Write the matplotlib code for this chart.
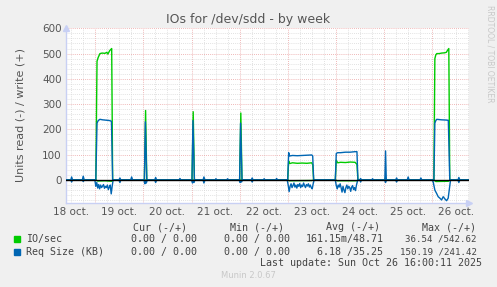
import matplotlib
matplotlib.use("Agg")
import matplotlib.pyplot as plt

# time in days since 18 oct 00:00, values in units
DAY_LABELS = ["18 oct.", "19 oct.", "20 oct.", "21 oct.", "22 oct.",
              "23 oct.", "24 oct.", "25 oct.", "26 oct."]
Y_TICKS = [0, 100, 200, 300, 400, 500, 600]

# IO/sec write (+)
io_w_t = [0.39, 1.01, 1.035, 1.06, 1.096, 1.14, 1.20, 1.24, 1.26, 1.30, 1.34, 1.36,
          2.02, 2.045, 2.07, 3.01, 3.035, 3.06, 4.00, 4.025, 4.05,
          5.00, 5.02, 5.04, 5.10, 5.20, 5.30, 5.40, 5.50, 5.52, 5.54,
          5.99, 6.01, 6.04, 6.10, 6.20, 6.30, 6.40, 6.44, 6.46,
          7.02, 7.035, 7.05,
          8.04, 8.06, 8.08, 8.10, 8.15, 8.20, 8.26, 8.30, 8.32, 8.35, 8.37, 8.77]
io_w_v = [0, 0, 470, 485, 500, 502, 501, 505, 498, 512, 520, 0,
          0, 275, 0, 0, 270, 0, 0, 265, 0,
          0, 75, 65, 68, 66, 67, 66, 68, 60, 0,
          0, 78, 68, 70, 69, 71, 70, 62, 0,
          0, 10, 0,
          0, 480, 495, 500, 500, 502, 503, 505, 512, 520, 0, 0]

# IO/sec read (-)
io_r_t = [0.39, 1.01, 1.05, 1.20, 1.34, 1.37, 5.00, 5.03, 5.50, 5.54,
          6.00, 6.03, 6.43, 6.47, 8.04, 8.08, 8.34, 8.38, 8.77]
io_r_v = [0, 0, -4, -3, -5, 0, 0, -3, -2, 0,
          0, -3, -3, 0, 0, -6, -5, 0, 0]

# Req Size (KB) write (+)
rq_w_t = [0.39, 0.49, 0.507, 0.527, 0.73, 0.748, 0.77,
          1.01, 1.035, 1.06, 1.096, 1.15, 1.20, 1.25, 1.30, 1.335, 1.36,
          1.49, 1.511, 1.53, 1.735, 1.755, 1.775,
          2.02, 2.04, 2.07, 2.235, 2.254, 2.275, 2.74, 2.759, 2.78,
          3.01, 3.03, 3.06, 3.24, 3.258, 3.28, 3.49, 3.507, 3.53, 3.73, 3.75, 3.77,
          4.00, 4.02, 4.05, 4.24, 4.262, 4.28, 4.49, 4.511, 4.53, 4.75, 4.769, 4.79,
          5.00, 5.02, 5.04, 5.10, 5.20, 5.30, 5.40, 5.50, 5.52, 5.54,
          5.99, 6.01, 6.04, 6.10, 6.20, 6.30, 6.40, 6.44, 6.46,
          6.50, 6.516, 6.535, 6.745, 6.765, 6.785,
          7.02, 7.035, 7.05, 7.245, 7.264, 7.285, 7.485, 7.505, 7.525, 7.75, 7.769, 7.79,
          8.04, 8.06, 8.08, 8.10, 8.20, 8.30, 8.34, 8.37,
          8.54, 8.559, 8.58, 8.77]
rq_w_v = [0, 0, 12, 0, 0, 15, 0,
          0, 225, 235, 240, 238, 237, 236, 235, 232, 0,
          0, 8, 0, 0, 12, 0,
          0, 230, 0, 0, 10, 0, 0, 6, 0,
          0, 235, 0, 0, 12, 0, 0, 5, 0, 0, 5, 0,
          0, 225, 0, 0, 8, 0, 0, 5, 0, 0, 6, 0,
          0, 108, 95, 97, 96, 97, 98, 99, 95, 0,
          0, 105, 108, 108, 110, 110, 112, 112, 0,
          0, 6, 0, 0, 5, 0,
          0, 115, 0, 0, 8, 0, 0, 12, 0, 0, 8, 0,
          0, 225, 235, 240, 238, 237, 236, 0,
          0, 10, 0, 0]

# Req Size (KB) read (-)
rq_r_t = [0.39, 0.49, 0.507, 0.527, 0.73, 0.748, 0.77,
          0.99, 1.01, 1.03, 1.05, 1.07, 1.09, 1.11, 1.13, 1.15, 1.17, 1.19, 1.21,
          1.23, 1.25, 1.27, 1.29, 1.31, 1.33, 1.35, 1.37,
          1.49, 1.511, 1.53, 2.01, 2.03, 2.045, 2.06, 2.08, 2.235, 2.254, 2.275,
          3.00, 3.02, 3.035, 3.05, 3.07, 3.24, 3.258, 3.28,
          3.99, 4.01, 4.025, 4.04, 4.06, 4.24, 4.262, 4.28,
          4.99, 5.01, 5.03, 5.05, 5.07, 5.09, 5.11, 5.13, 5.15, 5.17, 5.19, 5.21,
          5.23, 5.25, 5.27, 5.29, 5.31, 5.33, 5.35, 5.37, 5.39, 5.41, 5.43, 5.45,
          5.47, 5.49, 5.51, 5.53, 5.55,
          5.99, 6.01, 6.03, 6.05, 6.07, 6.09, 6.11, 6.13, 6.15, 6.17, 6.19, 6.21,
          6.23, 6.25, 6.27, 6.29, 6.31, 6.33, 6.35, 6.37, 6.39, 6.41, 6.43, 6.45, 6.47,
          6.50, 6.516, 6.535, 7.015, 7.035, 7.055, 7.245, 7.264, 7.285,
          8.00, 8.025, 8.06, 8.096, 8.129, 8.165, 8.20, 8.233, 8.27, 8.304, 8.337,
          8.358, 8.386, 8.54, 8.559, 8.58, 8.77]
rq_r_v = [0, 0, -8, 0, 0, -6, 0,
          0, -25, -10, -32, -18, -35, -20, -30, -24, -18, -33, -25,
          -30, -20, -38, -28, -20, -55, -25, 0,
          0, -10, 0, 0, -15, -5, -12, 0, 0, -10, 0,
          0, -12, -4, -10, 0, 0, -12, 0,
          0, -10, -4, -8, 0, 0, -8, 0,
          0, -20, -46, -25, -15, -30, -22, -12, -28, -20, -32, -18,
          -25, -14, -30, -20, -26, -12, -22, -30, -18, -24, -15, -28,
          -20, -30, -35, -15, 0,
          0, -22, -35, -20, -28, -15, -30, -48, -25, -40, -50, -30,
          -20, -35, -25, -30, -45, -28, -22, -38, -30, -42, -20, -5, 0,
          0, -8, 0, 0, -10, 0, 0, -8, 0,
          0, -7, -40, -53, -66, -72, -79, -66, -75, -82, -72,
          -40, 0, 0, -10, 0, 0]

GREEN = "#00cc00"
BLUE = "#0066b3"
W, H = 497, 287


def fx(x):
    return x / W


def fy(y):
    return 1 - y / H


fig = plt.figure(figsize=(W / 100, H / 100), dpi=100, facecolor="#f0f0f0")
ax = fig.add_axes([fx(66), fy(203), (469 - 66) / W, (203 - 28.3) / H])
ax.set_facecolor("white")
ax.set_xlim(0.39, 8.77)
ax.set_ylim(-91, 600)

# grid: minor every 6 h / 20 units, major every day / 100 units
dot = (0, (1, 1.5))
for i in range(1, 36):
    t = i * 0.25
    if 0.39 < t < 8.77 and i % 4:
        ax.axvline(t, color="#d8d8d8", lw=0.6, ls=dot, zorder=1)
for d in range(1, 9):
    ax.axvline(d, color="#eaa0a0", lw=0.6, ls=dot, zorder=1)
for v in range(-80, 600, 20):
    if v % 100:
        ax.axhline(v, color="#d8d8d8", lw=0.6, ls=dot, zorder=1)
for v in Y_TICKS[1:]:
    ax.axhline(v, color="#eaa0a0", lw=0.6, ls=dot, zorder=1)

ax.plot(io_w_t, io_w_v, color=GREEN, lw=1, zorder=3)
ax.plot(io_r_t, io_r_v, color=GREEN, lw=1, zorder=3)
ax.plot(rq_w_t, rq_w_v, color=BLUE, lw=1, zorder=4)
ax.plot(rq_r_t, rq_r_v, color=BLUE, lw=1, zorder=4)
ax.axhline(0, color="black", lw=1, zorder=5)

for s in ("top", "right"):
    ax.spines[s].set_visible(False)
for s in ("left", "bottom"):
    ax.spines[s].set_color("#c8d0f4")
    ax.spines[s].set_linewidth(1)
ax.plot([0.39], [600], marker="^", color="#c8d0f4", ms=5, clip_on=False,
        transform=ax.transData, zorder=6)
ax.plot([1], [0], marker=">", color="#c8d0f4", ms=5, clip_on=False,
        transform=ax.transAxes, zorder=6)

ax.set_yticks(Y_TICKS)
ax.set_yticklabels([str(v) for v in Y_TICKS])
ax.set_xticks([d + 0.5 for d in range(len(DAY_LABELS))])
ax.set_xticklabels(DAY_LABELS)
ax.tick_params(length=0, labelsize=7.5, colors="#555555", pad=3)

fig.text(fx(248), fy(19), "IOs for /dev/sdd - by week", ha="center", va="center",
         fontsize=9, color="#555555")
fig.text(fx(21), fy(115), "Units read (-) / write (+)", rotation=90, ha="center",
         va="center", fontsize=8, color="#555555")
fig.text(fx(490), fy(5), "RRDTOOL / TOBI OETIKER", rotation=270, ha="center",
         va="top", fontsize=5.5, color="#c8c8c8")

mono = dict(family="DejaVu Sans Mono", fontsize=7.2, color="#444444", va="center")
tight = dict(mono, fontsize=6.6)
for label, x in [("Cur (-/+)", 187), ("Min (-/+)", 284), ("Avg (-/+)", 380),
                 ("Max (-/+)", 476)]:
    fig.text(fx(x), fy(227.3), label, ha="right", **mono)

rows = [("IO/sec", GREEN, 239.3, "0.00 / 0.00", "0.00 / 0.00", "161.15m/48.71",
         "36.54 /542.62"),
        ("Req Size (KB)", BLUE, 251.7, "0.00 / 0.00", "0.00 / 0.00", "6.18 /35.25",
         "150.19 /241.42")]
for name, col, y, cur, mn, avg, mx in rows:
    fig.patches.append(plt.Rectangle((fx(14), fy(y + 3)), 6 / W, 6 / H, color=col,
                                     transform=fig.transFigure, figure=fig))
    fig.text(fx(26), fy(y), name, ha="left", **mono)
    fig.text(fx(196.7), fy(y), cur, ha="right", **mono)
    fig.text(fx(290), fy(y), mn, ha="right", **mono)
    fig.text(fx(383.3), fy(y), avg, ha="right", **mono)
    fig.text(fx(476.5), fy(y), mx, ha="right", **tight)

fig.text(fx(482.5), fy(263.3), "Last update: Sun Oct 26 16:00:11 2025", ha="right",
         **mono)
fig.text(fx(248), fy(276), "Munin 2.0.67", ha="center", va="center", fontsize=6,
         color="#c8c8c8")

fig.savefig("out.png", dpi=100, facecolor=fig.get_facecolor())
